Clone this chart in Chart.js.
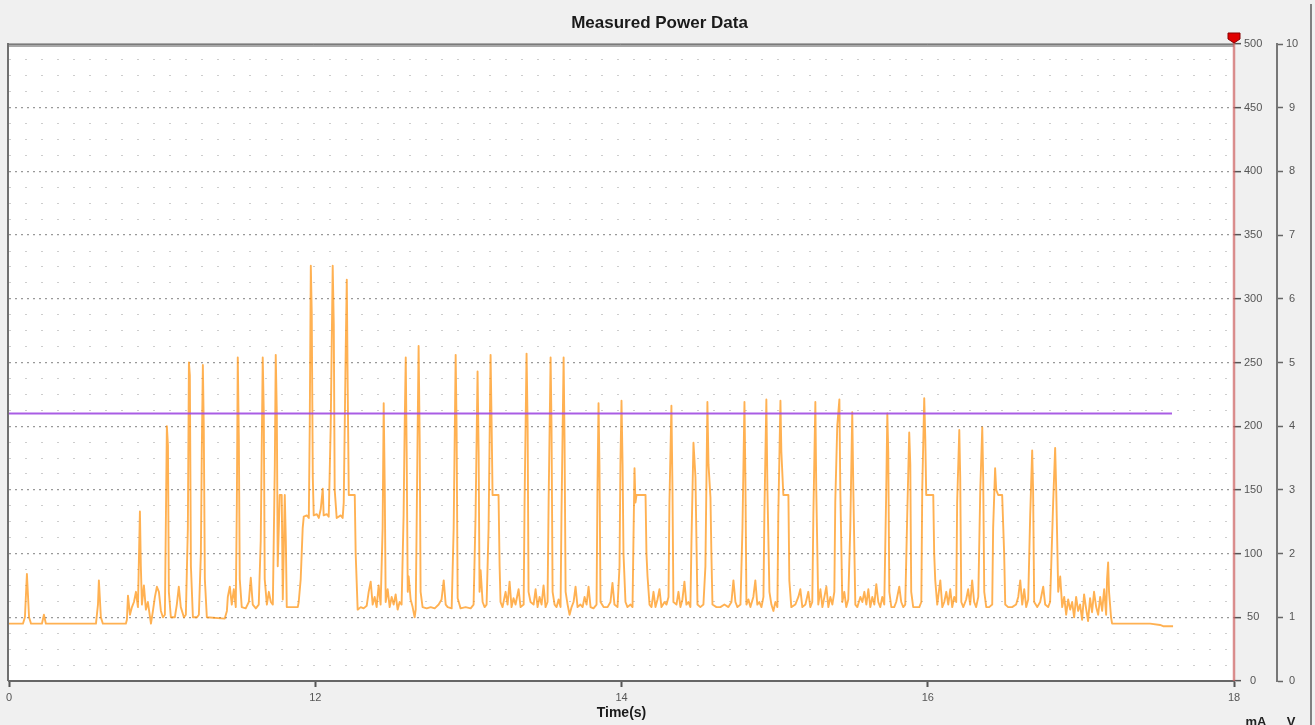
<!DOCTYPE html>
<html>
<head>
<meta charset="utf-8">
<script src="https://cdn.jsdelivr.net/npm/chart.js@4.4.1/dist/chart.umd.min.js"></script>
<style>
html,body{margin:0;padding:0;background:#f0f0f0;overflow:hidden}
canvas{display:block}
</style>
</head>
<body>
<canvas id="c" width="1315" height="725"></canvas>
<script>
// ---------- data ----------
const chartTitle = 'Measured Power Data';
const xAxisTitle = 'Time(s)';
const unitLabels = ['mA', 'V'];
const xTickValues = [10, 12, 14, 16, 18];
const xTickLabels = ['0', '12', '14', '16', '18'];
const currentRangeMA = [0, 500];
const voltageRangeV = [0, 10];
const thresholdMA = 210;
const thresholdSpanS = [10, 17.595];
const cursorTimeS = 18;

const timeS = [
  10.000,10.091,10.104,10.117,10.131,10.144,10.215,10.228,10.241,10.568,10.581,10.587,10.600,10.613,10.763,
  10.770,10.777,10.790,10.803,10.816,10.829,10.842,10.855,10.861,10.868,
  10.881,10.894,10.907,10.927,10.940,10.953,10.966,10.979,10.992,11.005,
  11.018,11.024,11.031,11.038,11.044,11.057,11.083,11.096,11.109,11.122,
  11.142,11.155,11.168,11.175,11.181,11.188,11.201,11.227,11.240,11.253,
  11.259,11.266,11.272,11.279,11.292,11.409,11.423,11.429,11.442,11.455,
  11.468,11.481,11.488,11.494,11.501,11.507,11.520,11.546,11.566,11.579,
  11.592,11.612,11.631,11.644,11.657,11.664,11.670,11.684,11.697,11.710,
  11.723,11.736,11.742,11.749,11.755,11.768,11.781,11.788,11.794,11.801,
  11.808,11.814,11.886,11.892,11.905,11.918,11.925,
  11.945,11.958,11.964,11.971,11.977,11.984,11.990,12.010,12.023,12.036,
  12.049,12.055,12.075,12.088,12.101,12.114,12.121,12.127,12.140,12.166,
  12.179,12.186,12.199,12.206,12.212,12.219,12.245,12.258,12.264,12.277,
  12.297,12.316,12.336,12.349,12.362,12.375,12.388,12.401,12.414,12.427,
  12.440,12.447,12.454,12.460,12.473,12.486,12.499,12.512,12.525,12.538,
  12.551,12.564,12.577,12.584,12.591,12.597,12.604,12.610,12.623,12.636,
  12.649,12.656,12.662,12.669,12.675,12.682,12.688,12.701,12.728,12.754,
  12.780,12.806,12.825,12.839,12.852,12.865,12.891,12.904,12.917,12.923,
  12.930,12.949,12.982,13.015,13.034,13.047,13.060,13.067,13.073,13.080,
  13.093,13.106,13.119,13.132,13.145,13.152,13.158,13.178,13.197,13.204,
  13.210,13.223,13.243,13.256,13.269,13.282,13.295,13.308,13.328,13.341,
  13.361,13.367,13.380,13.387,13.393,13.406,13.426,13.439,13.452,13.465,
  13.478,13.491,13.504,13.517,13.524,13.537,13.543,13.550,13.563,13.576,
  13.589,13.602,13.608,13.622,13.628,13.635,13.648,13.661,13.674,13.687,
  13.700,13.713,13.732,13.746,13.759,13.772,13.785,13.798,13.817,13.837,
  13.843,13.850,13.856,13.863,
  13.883,13.909,13.928,13.941,13.954,13.974,13.987,13.993,14.000,14.007,
  14.013,14.026,14.039,14.059,14.072,14.078,14.085,14.091,14.098,14.131,
  14.157,14.163,14.170,14.183,14.196,14.209,14.222,14.235,14.248,14.261,
  14.281,14.294,14.307,14.313,14.326,14.333,14.339,14.359,14.372,14.385,
  14.398,14.411,14.424,14.437,14.450,14.457,14.470,14.483,14.496,14.515,
  14.535,14.548,14.561,14.568,14.581,14.587,14.594,14.620,14.646,14.672,
  14.698,14.718,14.731,14.744,14.757,14.777,14.790,14.803,14.809,14.816,
  14.829,14.842,14.861,14.874,14.887,14.900,14.914,14.927,14.933,14.946,
  14.953,14.966,14.979,14.992,15.005,15.018,15.024,15.038,15.044,15.057,
  15.090,15.096,15.109,15.135,15.155,15.168,15.181,15.201,15.220,15.233,
  15.246,15.253,15.266,15.272,15.285,15.299,15.312,15.325,15.338,15.351,
  15.364,15.377,15.390,15.396,15.409,15.423,15.429,15.442,15.455,15.468,
  15.481,15.494,15.507,15.514,15.527,15.540,15.560,15.573,15.586,15.599,
  15.612,15.625,15.638,15.651,15.664,15.677,15.690,15.703,15.716,15.729,
  15.736,15.742,15.749,
  15.762,15.781,15.794,15.814,15.827,15.840,15.853,15.866,15.879,15.886,
  15.892,15.905,15.925,15.945,15.958,15.964,15.977,15.984,15.990,16.023,
  16.036,16.042,16.049,16.062,16.082,16.095,16.108,16.121,16.134,16.147,
  16.160,16.173,16.186,16.192,16.206,16.212,16.219,16.232,16.251,16.264,
  16.277,16.290,16.303,16.316,16.330,16.343,16.356,16.362,16.369,16.382,
  16.401,16.421,16.427,16.440,16.447,16.460,16.486,16.499,16.506,16.525,
  16.551,16.577,16.591,16.604,16.617,16.630,16.643,16.656,16.669,16.682,
  16.688,16.695,16.715,16.734,16.754,16.767,16.786,16.799,16.819,16.832,
  16.839,16.852,16.865,16.878,16.891,16.904,16.917,16.930,16.943,16.956,
  16.969,16.982,16.995,17.008,17.021,17.034,17.047,17.060,17.073,17.086,
  17.100,17.113,17.126,17.139,17.152,17.165,17.171,17.178,17.184,17.197,
  17.204,17.321,17.452,17.517,17.537,17.602
];

const currentMA = [
  45,45,50,84,50,45,45,52,45,45,60,79,50,45,45,
  48,67,52,58,62,70,58,133,90,60,
  75,56,62,45,55,66,74,70,55,50,
  52,120,200,185,70,50,50,60,74,58,
  50,52,120,250,240,90,50,50,52,100,
  180,248,200,80,50,49,55,66,74,60,
  72,58,140,254,190,80,58,57,62,81,
  60,57,60,110,254,210,80,60,70,62,
  60,170,256,210,90,146,146,64,100,146,
  110,58,58,62,80,120,129,
  130,128,200,326,290,160,130,131,128,135,
  151,130,131,129,200,326,280,150,128,130,
  128,140,260,315,230,146,146,146,100,56,
  58,57,59,70,78,60,66,58,75,60,
  120,218,150,62,72,58,66,60,68,56,
  62,60,130,200,254,180,70,82,64,58,
  50,56,120,200,263,190,70,58,57,58,
  57,60,64,79,60,58,57,120,256,200,
  65,57,58,57,60,130,243,180,70,87,
  62,58,60,120,256,200,146,146,146,90,
  62,58,70,60,78,58,65,60,72,58,
  60,140,257,200,70,62,60,72,58,66,
  60,75,58,62,140,254,200,70,60,58,
  64,58,130,254,190,70,60,52,58,62,
  74,58,60,58,66,60,74,58,57,60,
  150,218,170,62,
  58,58,62,77,60,58,90,170,220,170,
  100,62,58,60,58,110,167,140,146,146,
  146,100,82,60,58,70,58,64,72,58,
  62,60,66,140,216,150,62,60,70,58,
  64,78,60,62,58,110,187,160,60,58,
  60,90,219,170,144,100,60,58,58,60,
  58,62,79,62,58,60,120,219,160,60,
  64,58,66,79,60,62,58,66,130,221,
  150,70,60,55,62,58,130,220,180,146,
  146,79,58,60,66,72,58,60,70,58,
  62,130,219,150,60,72,58,66,74,58,
  66,60,70,140,200,221,150,62,70,58,
  64,120,211,150,60,58,66,62,70,60,
  72,58,66,60,76,62,58,66,60,150,
  210,180,70,
  58,58,62,74,62,58,60,130,195,170,
  70,58,58,58,62,150,222,190,146,146,
  146,100,79,60,79,58,62,70,60,72,
  58,66,62,140,197,160,62,58,64,72,
  60,79,62,58,66,150,199,160,70,58,
  58,60,120,167,150,146,146,100,60,58,
  58,60,66,79,60,72,58,64,130,181,
  150,62,58,62,74,60,58,62,140,183,
  150,70,82,58,66,52,64,56,62,50,
  66,55,60,48,68,57,47,65,54,70,
  58,52,66,55,72,52,80,93,70,50,
  45,45,45,44,43,43
];

if (timeS.length !== currentMA.length) console.error('length mismatch', timeS.length, currentMA.length);

// ---------- chart ----------
Chart.defaults.font.family = "'Liberation Sans', Arial, sans-serif";
const isMajor = (c) => c && c.tick && Math.abs(c.tick.value % 50) < 1e-6;

const framePlugin = {
  id: 'frame',
  beforeDraw(chart) {
    const { ctx, chartArea: a, width, height } = chart;
    ctx.save();
    ctx.fillStyle = '#f0f0f0';
    ctx.fillRect(0, 0, width, height);
    ctx.fillStyle = '#ffffff';
    ctx.fillRect(a.left, a.top, a.right - a.left, a.bottom - a.top);
    ctx.restore();
  },
  beforeDatasetsDraw(chart) {
    const { ctx, chartArea: a, width, height } = chart;
    ctx.save();
    // top border (double grey line)
    ctx.strokeStyle = '#a8a8a8';
    ctx.lineWidth = 4;
    ctx.beginPath(); ctx.moveTo(a.left - 2, a.top + 1); ctx.lineTo(a.right, a.top + 1); ctx.stroke();
    ctx.strokeStyle = '#7a7a7a';
    ctx.lineWidth = 1;
    ctx.beginPath(); ctx.moveTo(a.left - 2, a.top + 0.5); ctx.lineTo(a.right, a.top + 0.5); ctx.stroke();
    // left border
    ctx.strokeStyle = '#707070';
    ctx.lineWidth = 2;
    ctx.beginPath(); ctx.moveTo(a.left - 1, a.top - 1); ctx.lineTo(a.left - 1, a.bottom); ctx.stroke();
    // right frame
    ctx.strokeStyle = '#808080';
    ctx.lineWidth = 2;
    ctx.beginPath(); ctx.moveTo(width - 4, 4); ctx.lineTo(width - 4, height); ctx.stroke();
    ctx.restore();
  },
  afterDatasetsDraw(chart) {
    // cursor marker at the top of the cursor line
    const { ctx, chartArea: a } = chart;
    const x = chart.scales.x.getPixelForValue(cursorTimeS);
    const y = a.top;
    ctx.save();
    ctx.fillStyle = '#e00000';
    ctx.strokeStyle = '#8a0000';
    ctx.lineWidth = 1;
    ctx.beginPath();
    ctx.moveTo(x - 6, y - 11);
    ctx.lineTo(x + 6, y - 11);
    ctx.lineTo(x + 6, y - 5);
    ctx.lineTo(x, y - 1);
    ctx.lineTo(x - 6, y - 5);
    ctx.closePath();
    ctx.fill();
    ctx.stroke();
    ctx.restore();
  },
  afterDraw(chart) {
    const { ctx } = chart;
    const sy = chart.scales.y, sv = chart.scales.y2;
    ctx.save();
    ctx.fillStyle = '#222';
    ctx.font = "bold 13px 'Liberation Sans', Arial, sans-serif";
    ctx.textAlign = 'center';
    ctx.textBaseline = 'top';
    ctx.fillText(unitLabels[0], sy.left + 22, 716);
    ctx.fillText(unitLabels[1], sv.left + 14, 716);
    ctx.restore();
  }
};

new Chart(document.getElementById('c'), {
  type: 'line',
  data: {
    datasets: [
      {
        label: 'Cursor',
        data: [{ x: cursorTimeS, y: currentRangeMA[0] }, { x: cursorTimeS, y: 504 }],
        borderColor: 'rgba(205,95,95,0.7)',
        borderWidth: 2.5,
        pointRadius: 0,
        clip: false,
        yAxisID: 'y'
      },
      {
        label: 'Threshold',
        data: [{ x: thresholdSpanS[0], y: thresholdMA }, { x: thresholdSpanS[1], y: thresholdMA }],
        borderColor: 'rgba(160,75,225,0.9)',
        borderWidth: 2,
        pointRadius: 0,
        yAxisID: 'y'
      },
      {
        label: 'Current',
        data: timeS.map((t, i) => ({ x: t, y: currentMA[i] })),
        borderColor: 'rgba(255,140,0,0.68)',
        borderWidth: 1.9,
        borderJoinStyle: 'round',
        pointRadius: 0,
        tension: 0,
        yAxisID: 'y'
      }
    ]
  },
  options: {
    responsive: false,
    animation: false,
    events: [],
    layout: { padding: { left: 9, right: 5, top: 0, bottom: 0 } },
    plugins: {
      legend: { display: false },
      tooltip: { enabled: false },
      title: {
        display: true,
        text: chartTitle,
        color: '#1a1a1a',
        font: { size: 17, weight: 'bold' },
        padding: { top: 13, bottom: 10.6 }
      }
    },
    scales: {
      x: {
        type: 'linear',
        min: xTickValues[0],
        max: xTickValues[xTickValues.length - 1],
        afterBuildTicks: (s) => { s.ticks = xTickValues.map(v => ({ value: v })); },
        ticks: {
          callback: (v) => { const i = xTickValues.indexOf(v); return i >= 0 ? xTickLabels[i] : ''; },
          color: '#555', font: { size: 11 }, padding: 4, maxRotation: 0
        },
        grid: { drawOnChartArea: false, tickLength: 6, tickColor: '#555', tickWidth: 2 },
        border: { display: true, color: '#666', width: 2 },
        title: {
          display: true, text: xAxisTitle, color: '#1a1a1a',
          font: { size: 14, weight: 'bold' }, padding: { top: 0, bottom: 3 }
        },
        afterFit: (s) => { s.height = 44; }
      },
      y: {
        type: 'linear',
        position: 'right',
        weight: 1,
        min: currentRangeMA[0],
        max: currentRangeMA[1],
        afterBuildTicks: (s) => {
          const t = [];
          for (let v = currentRangeMA[0]; v <= currentRangeMA[1] + 1e-6; v += 12.5) t.push({ value: v });
          s.ticks = t;
        },
        ticks: {
          autoSkip: false,
          callback: (v) => (Math.abs(v % 50) < 1e-6 ? String(v) : ''),
          color: '#555', font: { size: 11 }, padding: 3, crossAlign: 'center'
        },
        grid: {
          drawOnChartArea: true,
          color: (c) => (isMajor(c) ? '#999' : '#cdcdcd'),
          lineWidth: (c) => (isMajor(c) ? 1.3 : 1),
          tickLength: 7,
          tickColor: (c) => (isMajor(c) ? '#555' : 'rgba(0,0,0,0)'),
          tickWidth: 1.5,
          tickBorderDash: []
        },
        border: {
          display: false,
          dash: (c) => (c && c.tick ? (isMajor(c) ? [2, 4] : [2, 14]) : [])
        },
        afterFit: (s) => { s.width = 43; }
      },
      y2: {
        type: 'linear',
        position: 'right',
        weight: 2,
        min: voltageRangeV[0],
        max: voltageRangeV[1],
        ticks: { stepSize: 1, color: '#555', font: { size: 11 }, padding: 3, crossAlign: 'center' },
        grid: { drawOnChartArea: false, tickLength: 6, tickColor: '#666', tickWidth: 1.5 },
        border: { display: true, color: '#777', width: 2 },
        afterFit: (s) => { s.width = 33; }
      }
    }
  },
  plugins: [framePlugin]
});
</script>
</body>
</html>
